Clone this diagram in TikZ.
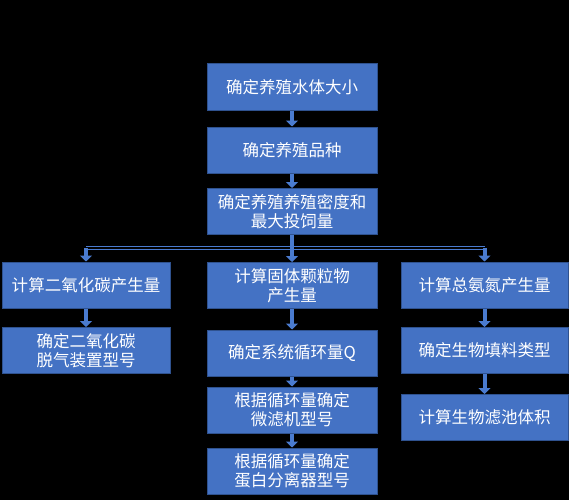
\documentclass[tikz,border=0pt]{standalone}
\usepackage{fontspec}
\setmainfont{Noto Sans CJK SC}
\usetikzlibrary{arrows.meta}
\definecolor{boxblue}{HTML}{4472C4}
\definecolor{boxedge}{HTML}{2F528F}
\definecolor{arrowblue}{HTML}{4A7BCF}
\tikzset{
	stepbox/.style={draw=boxedge, line width=1pt, fill=boxblue, text=white,
		minimum width=170pt, minimum height=46pt, inner sep=0pt, align=center,
		font=\fontsize{16.5}{19}\selectfont},
	flow/.style={draw=arrowblue, line width=4pt, -{Triangle[width=12pt,length=6pt]}},
	busline/.style={draw=arrowblue, line width=1.3pt, double=black, double distance=1.6pt}
}
\begin{document}
\begin{tikzpicture}[x=1pt,y=-1pt]
			% Draw background
			\fill[black] (0,0) rectangle (569,500);
			\useasboundingbox (0,0) rectangle (569,500);
			% Draw main column
			\node[stepbox] (size) at (292,87) {确定养殖水体大小};
			\node[stepbox] (species) at (292,150) {确定养殖品种};
			\node[stepbox] (density) at (292,211.5) {确定养殖养殖密度和\\最大投饲量};
			% Draw left column
			\node[stepbox, minimum width=168pt] (co2) at (86,285) {计算二氧化碳产生量};
			\node[stepbox, minimum width=168pt] (degas) at (86,350.5) {确定二氧化碳\\脱气装置型号};
			% Draw middle column
			\node[stepbox] (solids) at (292,285.5) {计算固体颗粒物\\产生量};
			\node[stepbox] (flowq) at (292,353) {确定系统循环量Q};
			\node[stepbox] (filter) at (292,410) {根据循环量确定\\微滤机型号};
			\node[stepbox] (skimmer) at (292,471) {根据循环量确定\\蛋白分离器型号};
			% Draw right column
			\node[stepbox, minimum width=167pt] (tan) at (484.5,285) {计算总氨氮产生量};
			\node[stepbox, minimum width=167pt] (media) at (484.5,350.5) {确定生物填料类型};
			\node[stepbox, minimum width=167pt] (biofilter) at (484.5,417.5) {计算生物滤池体积};
			% Draw bus
			\coordinate (busL) at (86,248);
			\coordinate (busR) at (484.5,248);
			\draw[busline] (busL) -- (busR);
			% Draw arrows
			\draw[flow] (size) -- (species);
			\draw[flow] (species) -- (density);
			\draw[flow] (density) -- (solids);
			\draw[flow] (busL) -- (co2);
			\draw[flow] (busR) -- (tan);
			\draw[flow] (co2) -- (degas);
			\draw[flow] (solids) -- (flowq);
			\draw[flow] (flowq) -- (filter);
			\draw[flow] (filter) -- (skimmer);
			\draw[flow] (tan) -- (media);
			\draw[flow] (media) -- (biofilter);
		\end{tikzpicture}
\end{document}
